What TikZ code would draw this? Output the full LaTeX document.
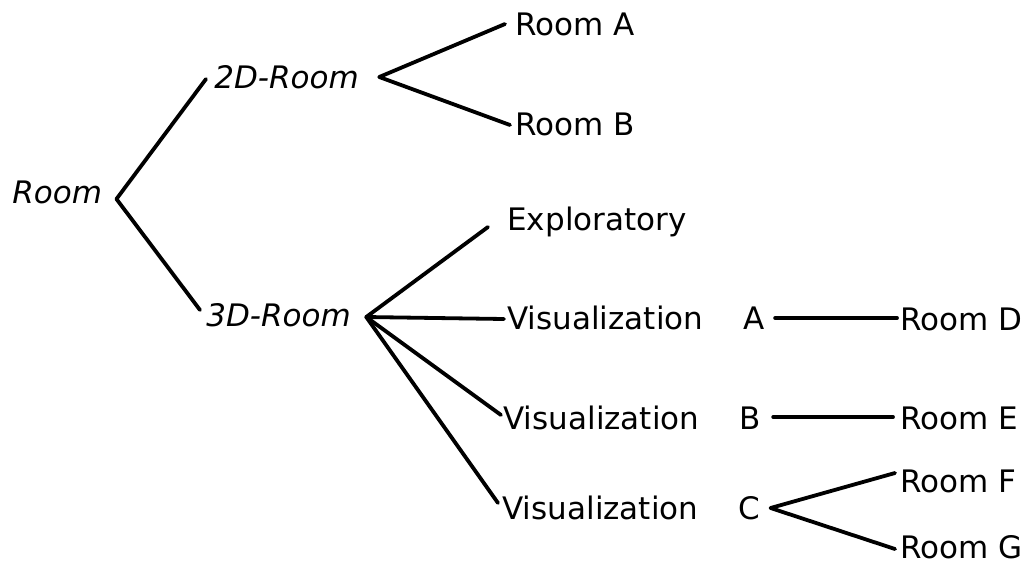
\documentclass[tikz,border=0pt]{standalone}
\usepackage{fontspec}
\setmainfont{DejaVu Sans}
\begin{document}
\begin{tikzpicture}[x=0.5pt,y=0.5pt,yscale=-1, every node/.style={inner sep=0pt,anchor=west,text height=11.3pt,text depth=0pt,font=\fontsize{15.5}{19}\selectfont}, branch/.style={line width=1.9pt,line cap=round,line join=round}, cls/.style={font=\fontsize{15.5}{19}\selectfont\itshape}]
\useasboundingbox (0,0) rectangle (1024,563);

% Text Node
\node[cls] (room) at (12,192) {Room};
% Text Node
\node[cls] (twoD) at (214,77) {2D-Room};
% Text Node
\node[cls] (threeD) at (206,315) {3D-Room};
% Text Node
\node (roomA) at (515,24) {Room A};
% Text Node
\node (roomB) at (515,124) {Room B};
% Text Node
\node (explo) at (507,219) {Exploratory};
% Text Node
\node (visA) at (507,318) {Visualization\hspace{1.3em}A};
% Text Node
\node (visB) at (503,418) {Visualization\hspace{1.3em}B};
% Text Node
\node (visC) at (502,508) {Visualization\hspace{1.3em}C};
% Text Node
\node (roomD) at (900,319) {Room D};
% Text Node
\node (roomE) at (900,418) {Room E};
% Text Node
\node (roomF) at (900,481) {Room F};
% Text Node
\node (roomG) at (900,547) {Room G};

% Connection
\draw[branch] ([shift={(-8,2)}]twoD.west) -- ([shift={(14,7)}]room.east) -- ([shift={(-6,-5)}]threeD.west);
% Connection
\draw[branch] ([shift={(-10,0)}]roomA.west) -- ([shift={(20,0)}]twoD.east) -- ([shift={(-5,1)}]roomB.west);
% Connection
\draw[branch] ([shift={(-19,8)}]explo.west) -- ([shift={(15,2)}]threeD.east) -- ([shift={(-3,1)}]visA.west);
\draw[branch] ([shift={(15,2)}]threeD.east) -- ([shift={(-2,-3)}]visB.west);
\draw[branch] ([shift={(15,2)}]threeD.east) -- ([shift={(-4,-5)}]visC.west);
% Connection
\draw[branch] ([shift={(10,0)}]visA.east) -- ([shift={(-3,-1)}]roomD.west);
\draw[branch] ([shift={(12,-1)}]visB.east) -- ([shift={(-7,-1)}]roomE.west);
% Connection
\draw[branch] ([shift={(-5,-8)}]roomF.west) -- ([shift={(10,0)}]visC.east) -- ([shift={(-5,2)}]roomG.west);
\end{tikzpicture}
\end{document}
